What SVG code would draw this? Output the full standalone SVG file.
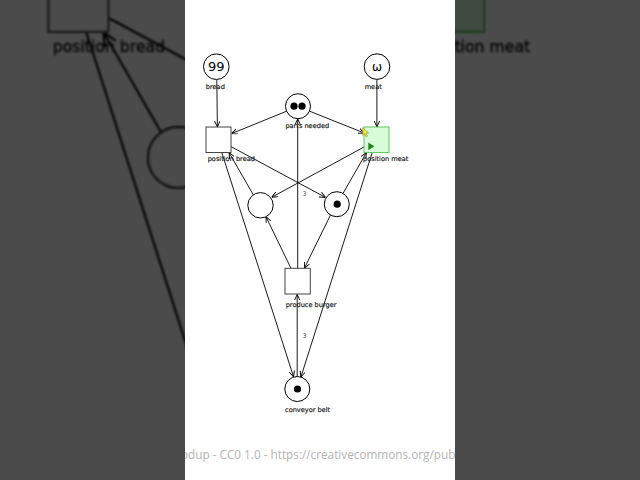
<svg xmlns="http://www.w3.org/2000/svg" xmlns:xlink="http://www.w3.org/1999/xlink" width="640" height="480" viewBox="0 0 640 480">
<defs>
<style>
.pl{fill:#fff;stroke:#000;stroke-width:1}
.tr{fill:#fff;stroke:#444;stroke-width:1}
.tk{fill:#000}
.lb{font-family:"DejaVu Sans",sans-serif;font-size:6.6px;fill:#111;stroke:#111;stroke-width:0.15}
.w{font-family:"DejaVu Sans",sans-serif;font-size:6.4px;fill:#555}
.arc{fill:none;stroke:#000;stroke-width:0.9;marker-end:url(#arr)}
</style>
<marker id="arr" viewBox="0 0 10 10" refX="10" refY="5" markerWidth="6" markerHeight="6" markerUnits="userSpaceOnUse" orient="auto">
<path d="M0,0.5 L10,5 L0,9.5" fill="none" stroke="#000" stroke-width="1.5"/>
</marker>
<clipPath id="panelClip"><rect x="185" y="0" width="270" height="480"/></clipPath>
<filter id="soft" x="-5%" y="-5%" width="110%" height="110%"><feGaussianBlur stdDeviation="1"/></filter>
</defs>

<rect x="0" y="0" width="640" height="480" fill="#fff"/>
<g filter="url(#soft)">
<use href="#diagram" xlink:href="#diagram" transform="translate(320,240) scale(2.38) translate(-320,-240)"/>
</g>
<rect x="0" y="0" width="640" height="480" fill="#000" opacity="0.705"/>
<rect x="185" y="0" width="270" height="480" fill="#fff"/>

<g id="diagram">
<g id="connectors">
<path class="arc" d="M216.8,79.8 L217.4,127"/>
<path class="arc" d="M376.9,79.6 L376.9,127"/>
<path class="arc" d="M286.6,111.2 L231.6,133.6"/>
<path class="arc" d="M309.6,111.2 L364.2,133"/>
<path class="arc" d="M231,146.6 L325.5,197.4"/>
<path class="arc" d="M364,147 L271.8,197.2"/>
<path class="arc" d="M253.3,194.8 L229,152.6"/>
<path class="arc" d="M343,193.4 L366.4,152.6"/>
<path class="arc" d="M221.8,152.6 L293.6,377"/>
<path class="arc" d="M372.2,152.6 L300.9,377"/>
<path class="arc" d="M291,268.3 L266,216.8"/>
<path class="arc" d="M330.5,215 L304.4,268.2"/>
<path class="arc" d="M297.7,268.3 L297.7,118.8"/>
<text class="w" x="302.6" y="196.2">3</text>
<path class="arc" d="M297.2,376.6 L297.2,294.4"/>
<text class="w" x="302.4" y="337.5">3</text>
</g>

<g id="bread">
<circle class="pl" cx="216.3" cy="66.7" r="12.8"/>
<text x="216.3" y="71.4" text-anchor="middle" font-family="'DejaVu Sans',sans-serif" font-size="13" fill="#000">99</text>
<text class="lb" x="205.8" y="88.6">bread</text>
</g>
<g id="meat">
<circle class="pl" cx="377" cy="66.6" r="12.8"/>
<text x="377" y="70.8" text-anchor="middle" font-family="'DejaVu Sans',sans-serif" font-size="12" fill="#000">ω</text>
<text class="lb" x="364.7" y="88.6">meat</text>
</g>
<g id="parts-needed">
<circle class="pl" cx="298" cy="106.2" r="12.5"/>
<circle class="tk" cx="294" cy="106.2" r="3.6"/>
<circle class="tk" cx="302" cy="106.2" r="3.6"/>
<text class="lb" x="285.4" y="128.3">parts needed</text>
</g>
<g id="position-bread">
<rect class="tr" x="206" y="127" width="25" height="25.5"/>
<text class="lb" x="207.7" y="161">position bread</text>
</g>
<g id="position-meat">
<rect x="364" y="127" width="25" height="25.5" fill="#d8fbd8" stroke="#62c662" stroke-width="1"/>
<path d="M368.3,142.4 L368.3,150.2 L374.4,146.3 Z" fill="#1d8a1d"/>
<text class="lb" x="363" y="161">position meat</text>
<path d="M362.6,127.6 L362.8,135.4 L364.6,133.8 L366.2,136.8 L367.4,136.2 L366,133.2 L368.6,133 Z" fill="#ecec3c" stroke="#8c8c22" stroke-width="0.6"/>
</g>
<g id="place-left">
<circle class="pl" cx="260.5" cy="205.3" r="12.7"/>
</g>
<g id="place-right">
<circle class="pl" cx="336.8" cy="204.2" r="12.5"/>
<circle class="tk" cx="337.2" cy="204.2" r="3.6"/>
</g>
<g id="produce-burger">
<rect class="tr" x="285" y="268.3" width="25.3" height="25.7"/>
<text class="lb" x="285.7" y="306.7">produce burger</text>
</g>
<g id="conveyor-belt">
<circle class="pl" cx="297.3" cy="389" r="12.5"/>
<circle class="tk" cx="297.5" cy="389" r="3.6"/>
<text class="lb" x="285" y="412.3">conveyor belt</text>
</g>
</g>

<g clip-path="url(#panelClip)">
<text x="181" y="459" font-family="'Open Sans',sans-serif" font-size="11.75" fill="#b4b4b4">odup - CC0 1.0 - https://creativecommons.org/public</text>
</g>
</svg>
